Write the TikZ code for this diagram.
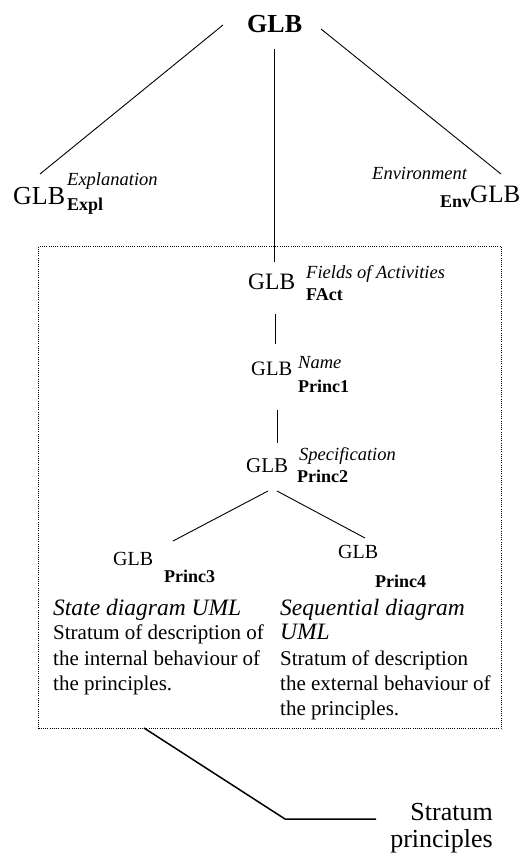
\documentclass[tikz,border=0pt]{standalone}
\usepackage{fontspec}
\setmainfont{Liberation Serif}
\begin{document}
\begin{tikzpicture}[x=1pt,y=-1pt,
  lbl/.style={inner sep=0pt, anchor=base west},
  glbtxt/.style={lbl, font=\fontsize{#1}{#1}\selectfont},
  suptxt/.style={lbl, font=\fontsize{18.5}{22}\selectfont\itshape},
  subtxt/.style={lbl, font=\fontsize{18}{22}\selectfont\bfseries},
  bodytxt/.style={lbl, font=\fontsize{21}{25}\selectfont},
  headtxt/.style={lbl, font=\fontsize{23.5}{25}\selectfont\itshape},
  conn/.style={line width=0.9pt},
  callout/.style={line width=1.5pt},
  frame/.style={dash pattern=on 1pt off 1.2pt, line width=1pt}]
\useasboundingbox (0,0) rectangle (522,858);

% top
\node[lbl, font=\fontsize{26}{26}\selectfont\bfseries] (top) at (247,33) {GLB};

% explanation
\node[glbtxt=26] (expl) at (13,205) {GLB};
\node[suptxt] (explsup) at (67,186) {Explanation};
\node[subtxt] (explsub) at (67,211) {Expl};

% environment
\node[suptxt] (envsup) at (372,180) {Environment};
\node[subtxt] (envsub) at (440,208) {Env};
\node[glbtxt=25] (env) at (470,203) {GLB};

% dotted frame
\node[draw, frame, inner sep=0pt, minimum width=463pt, minimum height=482pt, anchor=north west] (box) at (38,246) {};

% FAct
\node[glbtxt=23.5] (fact) at (248,290) {GLB};
\node[suptxt] (factsup) at (306,278) {Fields of Activities};
\node[subtxt] (factsub) at (306,300) {FAct};

% Princ1
\node[glbtxt=20.5] (p1) at (251,375) {GLB};
\node[suptxt] (p1sup) at (298,368) {Name};
\node[subtxt] (p1sub) at (298,392) {Princ1};

% Princ2
\node[glbtxt=21] (p2) at (246,472) {GLB};
\node[suptxt] (p2sup) at (299,460) {Specification};
\node[subtxt] (p2sub) at (297,482) {Princ2};

% Princ3
\node[glbtxt=20] (p3) at (113,565) {GLB};
\node[subtxt] (p3sub) at (164,582) {Princ3};

% Princ4
\node[glbtxt=20] (p4) at (338,558) {GLB};
\node[subtxt] (p4sub) at (375,587) {Princ4};

% left text
\node[headtxt] (lh) at (53,615) {State diagram UML};
\node[bodytxt] (l1) at (53,639) {Stratum of description of};
\node[bodytxt] (l2) at (53,665) {the internal behaviour of};
\node[bodytxt] (l3) at (53,690) {the principles.};

% right text
\node[headtxt] (rh) at (280,615) {Sequential diagram};
\node[headtxt] (rh2) at (280,639) {UML};
\node[bodytxt] (r1) at (280,665) {Stratum of description};
\node[bodytxt] (r2) at (280,690) {the external behaviour of};
\node[bodytxt] (r3) at (280,715) {the principles.};

% stratum label
\node[inner sep=0pt, anchor=base east, font=\fontsize{26}{26}\selectfont] (strat1) at (493,820) {Stratum};
\node[inner sep=0pt, anchor=base east, font=\fontsize{26}{26}\selectfont] (strat2) at (493,847) {principles};

% connector end points
\coordinate (topL) at (223,25);
\coordinate (explT) at (40,174);
\coordinate (topM) at (274,49);
\coordinate (factT) at (274,262);
\coordinate (topR) at (321,29);
\coordinate (envT) at (501,174);
\coordinate (factB) at (275,314);
\coordinate (p1T) at (275,344);
\coordinate (p1B) at (277,410);
\coordinate (p2T) at (277,443);
\coordinate (p2BL) at (268,491);
\coordinate (p3T) at (173,541);
\coordinate (p2BR) at (277,491);
\coordinate (p4T) at (365,538);
\coordinate (boxB) at (144,728);
\coordinate (bend) at (285,819);
\coordinate (stratL) at (376,819);

\draw[conn] (topL) -- (explT);
\draw[conn] (topM) -- (factT);
\draw[conn] (topR) -- (envT);
\draw[conn] (factB) -- (p1T);
\draw[conn] (p1B) -- (p2T);
\draw[conn] (p2BL) -- (p3T);
\draw[conn] (p2BR) -- (p4T);
\draw[callout] (boxB) -- (bend) -- (stratL);
\end{tikzpicture}
\end{document}
